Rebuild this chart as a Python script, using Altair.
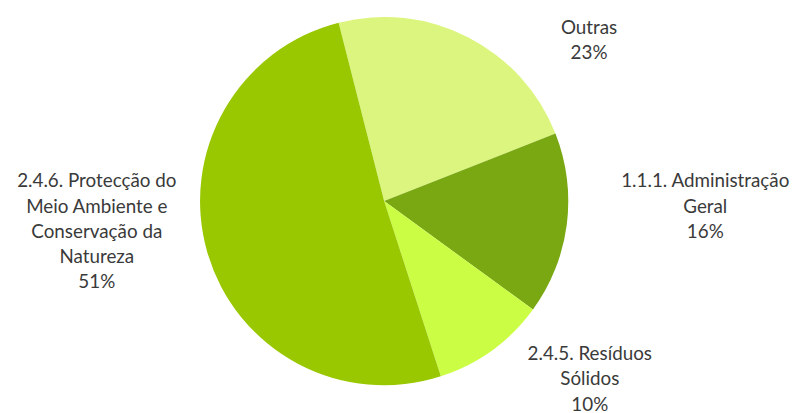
import math
import altair as alt
import pandas as pd

categories = ["Outras", "1.1.1. Administração Geral", "2.4.5. Resíduos Sólidos",
              "2.4.6. Protecção do Meio Ambiente e Conservação da Natureza"]
values = [23, 16, 10, 51]
label_lines = ["Outras\n23%", "1.1.1. Administração\nGeral\n16%",
               "2.4.5. Resíduos\nSólidos\n10%",
               "2.4.6. Protecção do\nMeio Ambiente e\nConservação da\nNatureza\n51%"]
colors = ["#dcf57e", "#79a812", "#ccfd45", "#99c800"]

# label anchor layout (first line; angle in radians clockwise from 12 o'clock, distance in px)
label_theta = [0.869, 1.510, 2.211, 4.781]
label_r = [271, 325, 259, 291]

df = pd.DataFrame({"cat": categories, "value": values, "order": [0, 1, 2, 3]})
lab = pd.DataFrame({"text": label_lines, "t": label_theta, "r": label_r})

start = 2 * math.pi - 0.25

pie = alt.Chart(df).mark_arc(outerRadius=186, stroke=None).encode(
    theta=alt.Theta("value:Q", stack=True, scale=alt.Scale(range=[start, start + 2 * math.pi])),
    order=alt.Order("order:Q"),
    color=alt.Color("cat:N", scale=alt.Scale(domain=categories, range=colors), legend=None),
)

labels = alt.Chart(lab).mark_text(
    align="center", baseline="middle", lineBreak="\n", lineHeight=25.5,
    font="Lato", fontSize=19, color="#3a3a3a",
).encode(
    theta=alt.Theta("t:Q", scale=None),
    radius=alt.Radius("r:Q", scale=None),
    text="text:N",
)

chart = alt.layer(pie, labels).properties(
    width=760, height=386,
    autosize="none",
    padding={"left": 0, "top": 0, "right": 31, "bottom": 19},
).configure_view(stroke=None)

chart.save("out.html", embed_options={"renderer": "svg", "actions": False})
